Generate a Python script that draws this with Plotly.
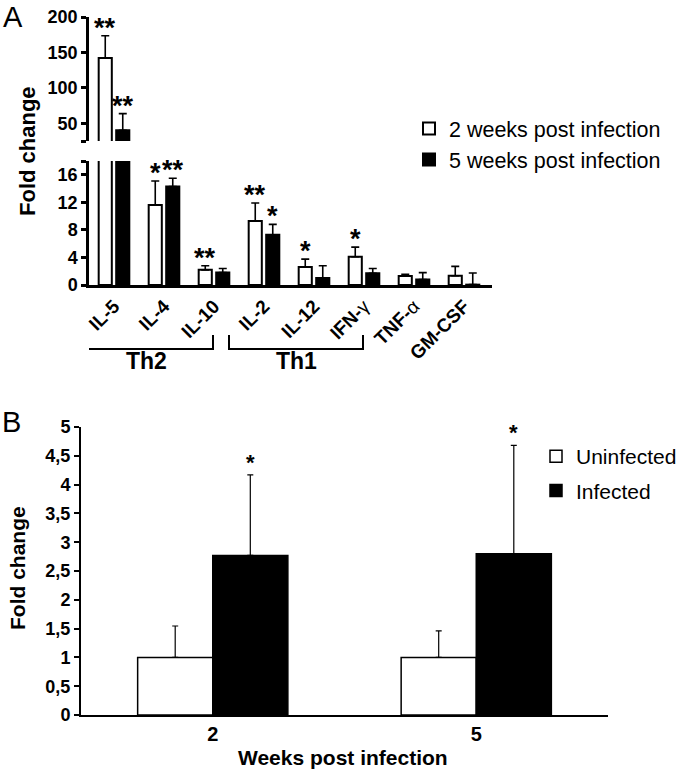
import plotly.graph_objects as go

W, H = 680, 772


def px(x):
    return x / W


def py(y):
    return 1 - y / H


FONT = "Liberation Sans, Arial, Helvetica, sans-serif"

# ---------------- Panel A data ----------------
cytokines = ["IL-5", "IL-4", "IL-10", "IL-2", "IL-12", "IFN-γ", "TNF-α", "GM-CSF"]
cytokine_labels = ["IL-5", "IL-4", "IL-10", "IL-2", "IL-12",
                   "IFN-<span style='font-weight:normal'>γ</span>",
                   "TNF-<span style='font-weight:normal'>α</span>", "GM-CSF"]
wk2_values = [142, 11.6, 2.2, 9.3, 2.6, 4.1, 1.3, 1.35]
wk2_errors = [31.5, 3.5, 0.6, 2.6, 1.15, 1.4, 0.25, 1.35]
wk5_values = [40, 14.3, 1.8, 7.3, 1.0, 1.7, 0.8, 0.05]
wk5_errors = [23.6, 1.2, 0.6, 1.5, 1.8, 0.7, 1.0, 1.7]
wk2_stars = ["**", "*", "**", "**", "*", "*", "", ""]
wk5_stars = ["**", "**", "", "*", "", "", "", ""]
groups = [("Th2", 0, 2), ("Th1", 3, 5)]

lower_ticks = [0, 4, 8, 12, 16, 18]
lower_ticktext = ["0", "4", "8", "12", "16", ""]
upper_ticks = [25, 50, 100, 150, 200]
upper_ticktext = ["", "50", "100", "150", "200"]

# ---------------- Panel B data ----------------
weeks = ["2", "5"]
uninfected = [1.0, 1.0]
uninfected_err = [0.545, 0.46]
infected = [2.77, 2.80]
infected_err = [1.40, 1.88]
infected_stars = ["*", "*"]
b_ticks = [0, 0.5, 1, 1.5, 2, 2.5, 3, 3.5, 4, 4.5, 5]
b_ticktext = ["0", "0,5", "1", "1,5", "2", "2,5", "3", "3,5", "4", "4,5", "5"]

fig = go.Figure()

series_a = [
    ("2 weeks post infection", wk2_values, wk2_errors, "white"),
    ("5 weeks post infection", wk5_values, wk5_errors, "black"),
]
for xa, ya, show in (("x", "y", True), ("x2", "y2", False)):
    for name, vals, errs, col in series_a:
        fig.add_trace(go.Bar(
            x=cytokines, y=vals, name=name, xaxis=xa, yaxis=ya,
            marker=dict(color=col, line=dict(color="black", width=2)),
            error_y=dict(type="data", array=errs, arrayminus=[0] * len(errs),
                         symmetric=False, color="black", thickness=1.6, width=4),
            showlegend=show, legend="legend", offsetgroup=name,
        ))

# Panel B bars (explicit width/offset so they touch)
bw = 0.285
fig.add_trace(go.Bar(
    x=weeks, y=uninfected, name="Uninfected", xaxis="x3", yaxis="y3",
    width=bw, offset=-bw, legendgroup="uninf",
    marker=dict(color="white", line=dict(color="black", width=1.5)),
    error_y=dict(type="data", array=uninfected_err, arrayminus=[0, 0],
                 symmetric=False, color="black", thickness=1.2, width=3),
    legend="legend2",
))
fig.add_trace(go.Bar(
    x=weeks, y=infected, name="Infected", xaxis="x3", yaxis="y3",
    width=bw, offset=0, legendgroup="inf",
    marker=dict(color="black", line=dict(color="black", width=1.5)),
    error_y=dict(type="data", array=infected_err, arrayminus=[0, 0],
                 symmetric=False, color="black", thickness=1.2, width=3),
    legend="legend2",
))

ann = []
# stars panel A
half = 0.175
for i in range(len(cytokines)):
    for stars, vals, errs, off in ((wk2_stars, wk2_values, wk2_errors, -half),
                                   (wk5_stars, wk5_values, wk5_errors, half)):
        if not stars[i]:
            continue
        top = vals[i] + errs[i]
        yref = "y2" if top > 18 else "y"
        ann.append(dict(x=i + off, y=top, xref="x", yref=yref, text=stars[i],
                        showarrow=False, xanchor="center", yanchor="bottom", yshift=-9,
                        font=dict(size=27, family=FONT, weight="bold", color="black")))
# stars panel B
for i in range(len(weeks)):
    ann.append(dict(x=i + bw / 2, y=infected[i] + infected_err[i], xref="x3", yref="y3",
                    text=infected_stars[i], showarrow=False, xanchor="center",
                    yanchor="bottom", yshift=-2,
                    font=dict(size=22, family=FONT, weight="bold", color="black")))

# group labels
for label, i0, i1 in groups:
    ann.append(dict(x=(i0 + i1) / 2 - 0.35, y=py(361), xref="x", yref="paper", text=label,
                    showarrow=False, xanchor="center", yanchor="middle",
                    font=dict(size=23, family=FONT, weight="bold", color="black")))


def paper_text(x, y, text, size, bold=True, angle=0):
    f = dict(size=size, family=FONT, color="black")
    if bold:
        f["weight"] = "bold"
    return dict(x=px(x), y=py(y), xref="paper", yref="paper", text=text, textangle=angle,
                showarrow=False, xanchor="center", yanchor="middle", font=f)


ann += [
    paper_text(27, 151, "Fold change", 22, angle=-90),
    paper_text(17, 568, "Fold change", 21, angle=-90),
    paper_text(343, 757, "Weeks post infection", 21),
    paper_text(13, 17, "A", 29, bold=False),
    paper_text(11, 422, "B", 29, bold=False),
]

shapes = []
for label, i0, i1 in groups:
    x0 = i0 - 0.7
    x1 = i1 - 0.02
    shapes.append(dict(type="path", xref="x", yref="paper",
                       path=f"M {x0},{py(335)} L {x0},{py(349)} L {x1},{py(349)} L {x1},{py(335)}",
                       line=dict(color="black", width=2)))

tickfont = dict(size=18, family=FONT, weight="bold", color="black")
fig.update_layout(
    width=W, height=H, margin=dict(l=0, r=0, t=0, b=0, autoexpand=False),
    paper_bgcolor="white", plot_bgcolor="white",
    barmode="group", bargap=0.3, bargroupgap=0.25,
    font=dict(family=FONT, color="black"),
    xaxis=dict(domain=[px(89), px(492)], range=[-0.5, 7.56], anchor="y", type="category",
               showline=True, linecolor="black", linewidth=2.5, ticks="",
               tickangle=-45, tickmode="array", tickvals=cytokines, ticktext=cytokine_labels,
               tickfont=dict(size=19, family=FONT, weight="bold", color="black"),
               showgrid=False, zeroline=False, automargin=False),
    yaxis=dict(domain=[py(285), py(161)], range=[0, 18], anchor="x",
               tickmode="array", tickvals=lower_ticks, ticktext=lower_ticktext,
               ticks="outside", ticklen=5, tickwidth=2.5, tickcolor="black",
               showline=True, linecolor="black", linewidth=2.5,
               tickfont=tickfont, showgrid=False, zeroline=False, automargin=False),
    xaxis2=dict(domain=[px(89), px(492)], matches="x", anchor="y2", visible=False,
                type="category", automargin=False),
    yaxis2=dict(domain=[py(141), py(17)], range=[25, 200], anchor="x2",
                tickmode="array", tickvals=upper_ticks, ticktext=upper_ticktext,
                ticks="outside", ticklen=5, tickwidth=2.5, tickcolor="black",
                showline=True, linecolor="black", linewidth=2.5,
                tickfont=tickfont, showgrid=False, zeroline=False, automargin=False),
    xaxis3=dict(domain=[px(81), px(608)], range=[-0.5, 1.5], anchor="y3", type="category",
                showline=True, linecolor="black", linewidth=2, ticks="",
                tickfont=dict(size=20, family=FONT, weight="bold", color="black"),
                showgrid=False, zeroline=False, automargin=False),
    yaxis3=dict(domain=[py(715), py(427)], range=[0, 5], anchor="x3",
                tickmode="array", tickvals=b_ticks, ticktext=b_ticktext,
                ticks="outside", ticklen=5, tickwidth=2, tickcolor="black",
                showline=True, linecolor="black", linewidth=2,
                tickfont=tickfont, showgrid=False, zeroline=False, automargin=False),
    legend=dict(x=px(409), y=py(108), xanchor="left", yanchor="top",
                font=dict(size=21.5, family=FONT, color="black"), bgcolor="rgba(0,0,0,0)"),
    legend2=dict(x=px(536), y=py(436), xanchor="left", yanchor="top", tracegroupgap=4,
                 font=dict(size=21, family=FONT, color="black"), bgcolor="rgba(0,0,0,0)"),
    annotations=ann, shapes=shapes,
)

fig.write_html("out.html", config={"displayModeBar": False},
               post_script="document.body.style.margin='0';document.body.style.padding='0';")
